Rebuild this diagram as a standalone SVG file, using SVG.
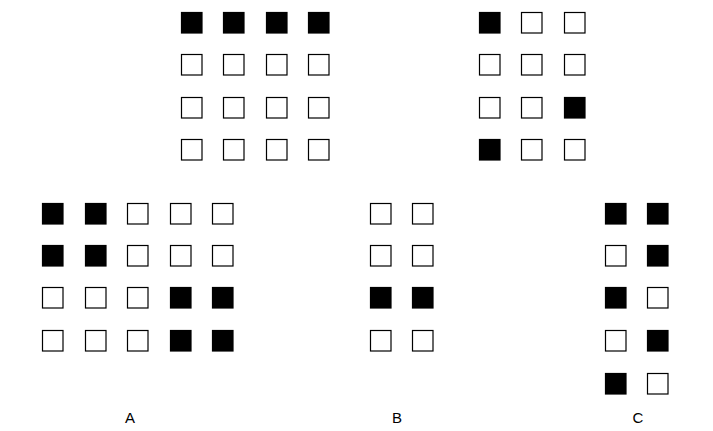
<svg xmlns="http://www.w3.org/2000/svg" width="713" height="431" viewBox="0 0 713 431">
<style>
.e{fill:#fff;stroke:#000;stroke-width:1.2}
.f{fill:#000;stroke:#000;stroke-width:1.2}
.t{font-family:"Liberation Sans",Arial,sans-serif;font-size:15px;fill:#000;text-anchor:middle}
</style>
<rect width="713" height="431" fill="#fff"/>
<g id="top-left">
<rect class="f" x="181.5" y="12.5" width="20.5" height="20.5"/><rect class="f" x="223.5" y="12.5" width="20.5" height="20.5"/><rect class="f" x="266.5" y="12.5" width="20.5" height="20.5"/><rect class="f" x="308.5" y="12.5" width="20.5" height="20.5"/>
<rect class="e" x="181.5" y="54.5" width="20.5" height="20.5"/><rect class="e" x="223.5" y="54.5" width="20.5" height="20.5"/><rect class="e" x="266.5" y="54.5" width="20.5" height="20.5"/><rect class="e" x="308.5" y="54.5" width="20.5" height="20.5"/>
<rect class="e" x="181.5" y="97.5" width="20.5" height="20.5"/><rect class="e" x="223.5" y="97.5" width="20.5" height="20.5"/><rect class="e" x="266.5" y="97.5" width="20.5" height="20.5"/><rect class="e" x="308.5" y="97.5" width="20.5" height="20.5"/>
<rect class="e" x="181.5" y="139.5" width="20.5" height="20.5"/><rect class="e" x="223.5" y="139.5" width="20.5" height="20.5"/><rect class="e" x="266.5" y="139.5" width="20.5" height="20.5"/><rect class="e" x="308.5" y="139.5" width="20.5" height="20.5"/>
</g>
<g id="top-right">
<rect class="f" x="479.5" y="12.5" width="20.5" height="20.5"/><rect class="e" x="521.5" y="12.5" width="20.5" height="20.5"/><rect class="e" x="564.5" y="12.5" width="20.5" height="20.5"/>
<rect class="e" x="479.5" y="54.5" width="20.5" height="20.5"/><rect class="e" x="521.5" y="54.5" width="20.5" height="20.5"/><rect class="e" x="564.5" y="54.5" width="20.5" height="20.5"/>
<rect class="e" x="479.5" y="97.5" width="20.5" height="20.5"/><rect class="e" x="521.5" y="97.5" width="20.5" height="20.5"/><rect class="f" x="564.5" y="97.5" width="20.5" height="20.5"/>
<rect class="f" x="479.5" y="139.5" width="20.5" height="20.5"/><rect class="e" x="521.5" y="139.5" width="20.5" height="20.5"/><rect class="e" x="564.5" y="139.5" width="20.5" height="20.5"/>
</g>
<g id="option-A">
<rect class="f" x="42.5" y="203.5" width="20.5" height="20.5"/><rect class="f" x="85.5" y="203.5" width="20.5" height="20.5"/><rect class="e" x="127.5" y="203.5" width="20.5" height="20.5"/><rect class="e" x="170.5" y="203.5" width="20.5" height="20.5"/><rect class="e" x="212.5" y="203.5" width="20.5" height="20.5"/>
<rect class="f" x="42.5" y="245.5" width="20.5" height="20.5"/><rect class="f" x="85.5" y="245.5" width="20.5" height="20.5"/><rect class="e" x="127.5" y="245.5" width="20.5" height="20.5"/><rect class="e" x="170.5" y="245.5" width="20.5" height="20.5"/><rect class="e" x="212.5" y="245.5" width="20.5" height="20.5"/>
<rect class="e" x="42.5" y="287.5" width="20.5" height="20.5"/><rect class="e" x="85.5" y="287.5" width="20.5" height="20.5"/><rect class="e" x="127.5" y="287.5" width="20.5" height="20.5"/><rect class="f" x="170.5" y="287.5" width="20.5" height="20.5"/><rect class="f" x="212.5" y="287.5" width="20.5" height="20.5"/>
<rect class="e" x="42.5" y="330.5" width="20.5" height="20.5"/><rect class="e" x="85.5" y="330.5" width="20.5" height="20.5"/><rect class="e" x="127.5" y="330.5" width="20.5" height="20.5"/><rect class="f" x="170.5" y="330.5" width="20.5" height="20.5"/><rect class="f" x="212.5" y="330.5" width="20.5" height="20.5"/>
<text class="t" x="130" y="423">A</text>
</g>
<g id="option-B">
<rect class="e" x="370.5" y="203.5" width="20.5" height="20.5"/><rect class="e" x="412.5" y="203.5" width="20.5" height="20.5"/>
<rect class="e" x="370.5" y="245.5" width="20.5" height="20.5"/><rect class="e" x="412.5" y="245.5" width="20.5" height="20.5"/>
<rect class="f" x="370.5" y="287.5" width="20.5" height="20.5"/><rect class="f" x="412.5" y="287.5" width="20.5" height="20.5"/>
<rect class="e" x="370.5" y="330.5" width="20.5" height="20.5"/><rect class="e" x="412.5" y="330.5" width="20.5" height="20.5"/>
<text class="t" x="397" y="423">B</text>
</g>
<g id="option-C">
<rect class="f" x="605.5" y="203.5" width="20.5" height="20.5"/><rect class="f" x="647.5" y="203.5" width="20.5" height="20.5"/>
<rect class="e" x="605.5" y="245.5" width="20.5" height="20.5"/><rect class="f" x="647.5" y="245.5" width="20.5" height="20.5"/>
<rect class="f" x="605.5" y="287.5" width="20.5" height="20.5"/><rect class="e" x="647.5" y="287.5" width="20.5" height="20.5"/>
<rect class="e" x="605.5" y="330.5" width="20.5" height="20.5"/><rect class="f" x="647.5" y="330.5" width="20.5" height="20.5"/>
<rect class="f" x="605.5" y="373.5" width="20.5" height="20.5"/><rect class="e" x="647.5" y="373.5" width="20.5" height="20.5"/>
<text class="t" x="638" y="423">C</text>
</g>
<g id="connectors"/>
</svg>
